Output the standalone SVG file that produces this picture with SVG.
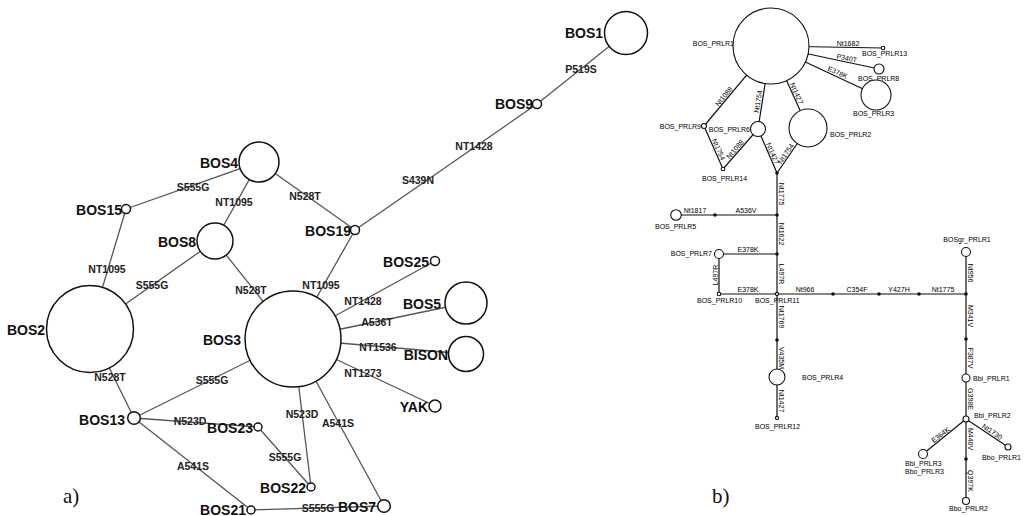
<svg xmlns="http://www.w3.org/2000/svg" width="1026" height="516" viewBox="0 0 1026 516">
<style>
.bg{fill:#fff}
.le line{stroke:#555;stroke-width:1.3}
.re line{stroke:#111;stroke-width:1.2}
.n{fill:#fff;stroke:#111;stroke-width:1.5}
.rn{fill:#fff;stroke:#111;stroke-width:1.1}
.j{fill:#111}
.nl{font-family:"Liberation Sans",Arial,sans-serif;font-weight:bold;font-size:14px;fill:#111;text-anchor:end}
.el{font-family:"Liberation Sans",Arial,sans-serif;font-weight:bold;font-size:10.5px;fill:#222;text-anchor:middle}
.rl{font-family:"Liberation Sans",Arial,sans-serif;font-size:7px;fill:#000;text-anchor:middle}
.rnl{font-family:"Liberation Sans",Arial,sans-serif;font-size:7px;fill:#000}
.cap{font-family:"Liberation Serif","Times New Roman",serif;font-size:21px;fill:#111}
</style>
<rect class="bg" x="0" y="0" width="1026" height="516"/>

<!-- ===== Panel a ===== -->
<g id="connectors-a" class="le">
<line x1="626" y1="33" x2="537" y2="104"/>
<line x1="537" y1="104" x2="355" y2="230"/>
<line x1="259" y1="162" x2="126" y2="209"/>
<line x1="259" y1="162" x2="215" y2="241"/>
<line x1="259" y1="162" x2="355" y2="230"/>
<line x1="126" y1="209" x2="90" y2="329"/>
<line x1="215" y1="241" x2="90" y2="329"/>
<line x1="215" y1="241" x2="293" y2="339"/>
<line x1="355" y1="230" x2="293" y2="339"/>
<line x1="293" y1="339" x2="435" y2="261"/>
<line x1="293" y1="339" x2="466" y2="303"/>
<line x1="293" y1="339" x2="466" y2="354"/>
<line x1="293" y1="339" x2="435" y2="406"/>
<line x1="90" y1="329" x2="134" y2="418"/>
<line x1="293" y1="339" x2="134" y2="418"/>
<line x1="134" y1="418" x2="258" y2="427"/>
<line x1="134" y1="418" x2="251" y2="510"/>
<line x1="293" y1="339" x2="311" y2="487"/>
<line x1="293" y1="339" x2="384" y2="506"/>
<line x1="258" y1="427" x2="311" y2="487"/>
<line x1="251" y1="510" x2="384" y2="506"/>
<g id="edge-labels-a">
<text class="el" x="581" y="73">P519S</text>
<text class="el" x="474" y="150">NT1428</text>
<text class="el" x="418" y="184">S439N</text>
<text class="el" x="193" y="191">S555G</text>
<text class="el" x="234" y="206">NT1095</text>
<text class="el" x="305" y="200">N528T</text>
<text class="el" x="107" y="273">NT1095</text>
<text class="el" x="152" y="289">S555G</text>
<text class="el" x="251" y="294">N528T</text>
<text class="el" x="321" y="289">NT1095</text>
<text class="el" x="363" y="305">NT1428</text>
<text class="el" x="377" y="326">A536T</text>
<text class="el" x="378" y="351">NT1536</text>
<text class="el" x="363" y="377">NT1273</text>
<text class="el" x="110" y="381">N528T</text>
<text class="el" x="212" y="384">S555G</text>
<text class="el" x="190" y="425">N523D</text>
<text class="el" x="302" y="418">N523D</text>
<text class="el" x="338" y="427">A541S</text>
<text class="el" x="285" y="461">S555G</text>
<text class="el" x="193" y="470">A541S</text>
<text class="el" x="318" y="512">S555G</text>
</g>
</g>

<g id="BOS1"><circle class="n" cx="626" cy="33" r="21.5"/><text class="nl" x="603" y="38">BOS1</text></g>
<g id="BOS9"><circle class="n" cx="537" cy="104" r="4.5"/><text class="nl" x="533" y="109">BOS9</text></g>
<g id="BOS4"><circle class="n" cx="259" cy="162" r="20"/><text class="nl" x="238" y="168">BOS4</text></g>
<g id="BOS15"><circle class="n" cx="126" cy="209" r="4.5"/><text class="nl" x="122" y="215">BOS15</text></g>
<g id="BOS19"><circle class="n" cx="355" cy="230" r="4.5"/><text class="nl" x="351" y="236">BOS19</text></g>
<g id="BOS8"><circle class="n" cx="215" cy="241" r="18"/><text class="nl" x="196" y="247">BOS8</text></g>
<g id="BOS25"><circle class="n" cx="435" cy="261" r="4.5"/><text class="nl" x="429" y="267">BOS25</text></g>
<g id="BOS2"><circle class="n" cx="90" cy="329" r="43.5"/><text class="nl" x="45" y="335">BOS2</text></g>
<g id="BOS3"><circle class="n" cx="293" cy="339" r="48"/><text class="nl" x="241" y="345">BOS3</text></g>
<g id="BOS5"><circle class="n" cx="466" cy="303" r="21"/><text class="nl" x="441" y="309">BOS5</text></g>
<g id="BISON"><circle class="n" cx="466" cy="354" r="17.5"/><text class="nl" x="448" y="360">BISON</text></g>
<g id="YAK"><circle class="n" cx="435" cy="406" r="6"/><text class="nl" x="428" y="412">YAK</text></g>
<g id="BOS13"><circle class="n" cx="134" cy="418" r="6.3"/><text class="nl" x="125" y="425">BOS13</text></g>
<g id="BOS23"><circle class="n" cx="258" cy="427" r="4"/><text class="nl" x="253" y="433">BOS23</text></g>
<g id="BOS22"><circle class="n" cx="311" cy="487" r="4"/><text class="nl" x="306" y="493">BOS22</text></g>
<g id="BOS21"><circle class="n" cx="251" cy="510" r="4"/><text class="nl" x="246" y="515">BOS21</text></g>
<g id="BOS7"><circle class="n" cx="384" cy="506" r="6.3"/><text class="nl" x="376" y="512">BOS7</text></g>
<text class="cap" x="63" y="503">a)</text>

<!-- ===== Panel b ===== -->
<g id="connectors-b" class="re">
<line x1="771" y1="46" x2="883" y2="48"/>
<line x1="771" y1="46" x2="879" y2="69"/>
<line x1="771" y1="46" x2="876" y2="95"/>
<line x1="771" y1="46" x2="704" y2="126"/>
<line x1="771" y1="46" x2="758" y2="129"/>
<line x1="771" y1="46" x2="808" y2="128"/>
<line x1="704" y1="126" x2="723" y2="169"/>
<line x1="723" y1="169" x2="758" y2="129"/>
<line x1="758" y1="129" x2="777" y2="173"/>
<line x1="808" y1="128" x2="777" y2="173"/>
<line x1="777" y1="173" x2="777" y2="294"/>
<line x1="777" y1="215" x2="676" y2="215"/>
<line x1="777" y1="254" x2="719" y2="254"/>
<line x1="719" y1="254" x2="719" y2="294"/>
<line x1="719" y1="294" x2="966" y2="294"/>
<line x1="966" y1="252" x2="966" y2="419"/>
<line x1="966" y1="419" x2="966" y2="501"/>
<line x1="966" y1="419" x2="923" y2="454"/>
<line x1="966" y1="419" x2="1008" y2="447"/>
<line x1="777" y1="294" x2="777" y2="418"/>
<g id="junctions">
<circle class="j" cx="777" cy="173" r="1.8"/>
<circle class="j" cx="715" cy="215" r="1.8"/>
<circle class="j" cx="777" cy="215" r="1.8"/>
<circle class="j" cx="777" cy="254" r="1.8"/>
<circle class="j" cx="833" cy="294" r="1.8"/>
<circle class="j" cx="879" cy="294" r="1.8"/>
<circle class="j" cx="919" cy="294" r="1.8"/>
<circle class="j" cx="966" cy="294" r="1.8"/>
<circle class="j" cx="966" cy="339" r="1.8"/>
<circle class="j" cx="966" cy="459" r="1.8"/>
<circle class="j" cx="777" cy="340" r="1.8"/>
</g>
<g id="edge-labels-b">
<text class="rl" x="848" y="46">Nt1682</text>
<text class="rl" x="695" y="213">Nt1817</text>
<text class="rl" x="746" y="213">A536V</text>
<text class="rl" x="748" y="252">E378K</text>
<text class="rl" x="748" y="292">E378K</text>
<text class="rl" x="805" y="292">Nt966</text>
<text class="rl" x="857" y="292">C354F</text>
<text class="rl" x="899" y="292">Y427H</text>
<text class="rl" x="943" y="292">Nt1775</text>
<text class="rl" transform="translate(777,194) rotate(90)" y="-1.5">Nt1775</text>
<text class="rl" transform="translate(777,234) rotate(90)" y="-1.5">Nt1622</text>
<text class="rl" transform="translate(777,274) rotate(90)" y="-1.5">L497R</text>
<text class="rl" transform="translate(777,317) rotate(90)" y="-1.5">Nt1769</text>
<text class="rl" transform="translate(777,358) rotate(90)" y="-1.5">V435M</text>
<text class="rl" transform="translate(777,401) rotate(90)" y="-1.5">Nt1427</text>
<text class="rl" transform="translate(719,275) rotate(-90)" y="-1.5">L497R</text>
<text class="rl" transform="translate(966,273) rotate(90)" y="-1.5">Nt956</text>
<text class="rl" transform="translate(966,316) rotate(90)" y="-1.5">M341V</text>
<text class="rl" transform="translate(966,358) rotate(90)" y="-1.5">F387V</text>
<text class="rl" transform="translate(966,399) rotate(90)" y="-1.5">G398E</text>
<text class="rl" transform="translate(966,439) rotate(90)" y="-1.5">M440V</text>
<text class="rl" transform="translate(966,481) rotate(90)" y="-1.5">Q397K</text>
<text class="rl" transform="translate(846,62) rotate(12)" y="-1.5">P340T</text>
<text class="rl" transform="translate(836,76) rotate(25)" y="-1.5">E378K</text>
<text class="rl" transform="translate(727,99) rotate(-50)" y="-1.5">Nt1088</text>
<text class="rl" transform="translate(762,102) rotate(-81)" y="-1.5">Nt1754</text>
<text class="rl" transform="translate(793,95) rotate(65.7)" y="-1.5">Nt1427</text>
<text class="rl" transform="translate(715,151) rotate(66)" y="-1.5">Nt1754</text>
<text class="rl" transform="translate(738,152) rotate(-48.8)" y="-1.5">Nt1088</text>
<text class="rl" transform="translate(769,155) rotate(66.6)" y="-1.5">Nt1427</text>
<text class="rl" transform="translate(789,156) rotate(-55.4)" y="-1.5">Nt1754</text>
<text class="rl" transform="translate(943,438) rotate(-38.5)" y="-1.5">E364K</text>
<text class="rl" transform="translate(990,435) rotate(34.3)" y="-1.5">Nt1730</text>
</g>
</g>

<g id="BOS_PRLR1"><circle class="rn" cx="771" cy="46" r="38"/><text class="rnl" x="734" y="46" text-anchor="end">BOS_PRLR1</text></g>
<g id="BOS_PRLR13"><circle class="rn" cx="883" cy="48" r="1.8"/><text class="rnl" x="862" y="56">BOS_PRLR13</text></g>
<g id="BOS_PRLR8"><circle class="rn" cx="879" cy="69" r="5"/><text class="rnl" x="858" y="81">BOS_PRLR8</text></g>
<g id="BOS_PRLR3"><circle class="rn" cx="876" cy="95" r="15"/><text class="rnl" x="853" y="116">BOS_PRLR3</text></g>
<g id="BOS_PRLR2"><circle class="rn" cx="808" cy="128" r="19"/><text class="rnl" x="830" y="137">BOS_PRLR2</text></g>
<g id="BOS_PRLR9"><circle class="rn" cx="704" cy="126" r="2.5"/><text class="rnl" x="701" y="129" text-anchor="end">BOS_PRLR9</text></g>
<g id="BOS_PRLR6"><circle class="rn" cx="758" cy="129" r="7.5"/><text class="rnl" x="750" y="132" text-anchor="end">BOS_PRLR6</text></g>
<g id="BOS_PRLR14"><circle class="rn" cx="723" cy="169" r="1.8"/><text class="rnl" x="702" y="181">BOS_PRLR14</text></g>
<g id="BOS_PRLR5"><circle class="rn" cx="676" cy="215" r="5.3"/><text class="rnl" x="655" y="229">BOS_PRLR5</text></g>
<g id="BOS_PRLR7"><circle class="rn" cx="719" cy="254" r="4.5"/><text class="rnl" x="712" y="256" text-anchor="end">BOS_PRLR7</text></g>
<g id="BOS_PRLR10"><circle class="rn" cx="719" cy="294" r="1.8"/><text class="rnl" x="697" y="303">BOS_PRLR10</text></g>
<g id="BOS_PRLR11"><circle class="rn" cx="777" cy="294" r="1.6"/><text class="rnl" x="755" y="303">BOS_PRLR11</text></g>
<g id="BOS_PRLR4"><circle class="rn" cx="777" cy="377" r="8"/><text class="rnl" x="802" y="380">BOS_PRLR4</text></g>
<g id="BOS_PRLR12"><circle class="rn" cx="777" cy="418" r="1.6"/><text class="rnl" x="755" y="429">BOS_PRLR12</text></g>
<g id="BOSgr_PRLR1"><circle class="rn" cx="966" cy="252" r="4.5"/><text class="rnl" x="967" y="242" text-anchor="middle">BOSgr_PRLR1</text></g>
<g id="Bbi_PRLR1"><circle class="rn" cx="966" cy="378" r="4"/><text class="rnl" x="973" y="381">Bbi_PRLR1</text></g>
<g id="Bbi_PRLR2"><circle class="rn" cx="966" cy="419" r="3"/><text class="rnl" x="974" y="418">Bbi_PRLR2</text></g>
<g id="Bbi_PRLR3"><circle class="rn" cx="923" cy="454" r="4.5"/><text class="rnl" x="905" y="466">Bbi_PRLR3</text><text class="rnl" x="905" y="474">Bbo_PRLR3</text></g>
<g id="Bbo_PRLR1"><circle class="rn" cx="1008" cy="447" r="3"/><text class="rnl" x="1021" y="460" text-anchor="end">Bbo_PRLR1</text></g>
<g id="Bbo_PRLR2"><circle class="rn" cx="966" cy="501" r="3.5"/><text class="rnl" x="949" y="511">Bbo_PRLR2</text></g>
<text class="cap" x="712" y="503">b)</text>
</svg>
